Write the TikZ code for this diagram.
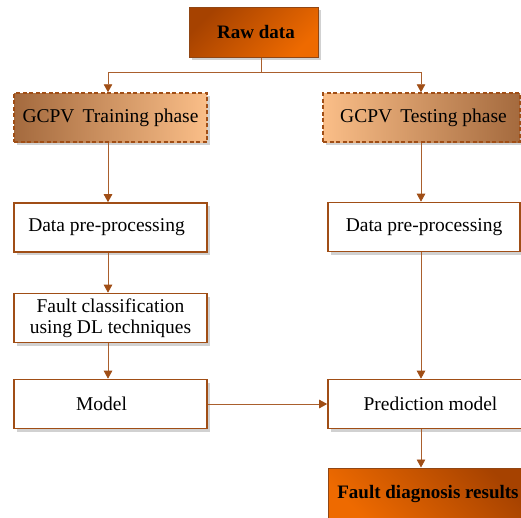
\documentclass[tikz,border=0pt]{standalone}
\usepackage{fontspec}
\setmainfont{Liberation Serif}
\usetikzlibrary{arrows.meta,shadows}
\definecolor{brd}{RGB}{160,78,22}
\definecolor{lnk}{RGB}{170,95,45}
\definecolor{dorange}{RGB}{166,66,0}
\definecolor{borange}{RGB}{238,106,0}
\definecolor{lpeach}{RGB}{250,190,136}
\definecolor{dpeach}{RGB}{164,106,62}
\tikzset{
  shad/.style={drop shadow={shadow xshift=2.5pt,shadow yshift=-3pt,fill=black!40,opacity=0.45}},
  wbox/.style={draw=brd,line width=1.6pt,fill=white,minimum width=193pt,minimum height=49pt,inner sep=0pt,align=center,shad},
  phasebox/.style={draw=brd,line width=1.5pt,dash pattern=on 4pt off 2.5pt,minimum width=193pt,minimum height=49pt,inner sep=0pt,shad},
  darkbox/.style={draw=brd!90!black,line width=1pt,inner sep=0pt,shad},
  arr/.style={draw=lnk,line width=0.9pt,-{Triangle[length=8pt,width=8.5pt,fill=brd,color=brd]}},
  lnkline/.style={draw=lnk,line width=0.9pt},
  txt/.style={font=\fontsize{19.5}{20.5}\selectfont},
  btxt/.style={font=\fontsize{19}{20}\selectfont\bfseries}
}
\begin{document}
\begin{tikzpicture}[x=1pt,y=-1pt]
\useasboundingbox (0,0) rectangle (521,517);
\clip (0,0) rectangle (521,517);
\coordinate (xl) at (108,0);
\coordinate (xr) at (421,0);
\coordinate (bus) at (261,72);
% top
\node[darkbox,top color=dorange,bottom color=borange,shading angle=45,minimum width=129pt,minimum height=50pt,btxt] (raw) at (253.5,32) {\hspace{5pt}Raw data};
\node[phasebox,left color=dpeach,right color=lpeach,txt] (train) at (110.5,117.5) {GCPV\, Training phase};
\node[phasebox,left color=lpeach,right color=dpeach,txt,minimum width=197pt] (test) at (421.5,117.5) {\hspace{4pt}GCPV\, Testing phase};
% left column
\node[wbox,txt] (dpl) at (110.5,227.5) {\raisebox{3pt}{Data pre-processing}\hspace{8pt}};
\node[wbox,txt] (fc) at (110.5,318) {\raisebox{2pt}{Fault classification}\\\raisebox{2pt}{using DL techniques}};
\node[wbox,txt] (model) at (110.5,404) {Model\hspace{18pt}};
% right column
\node[wbox,txt,minimum width=192pt] (dpr) at (424,227) {Data pre-processing};
\node[wbox,txt,minimum width=195pt] (pred) at (425.5,404) {\hspace{10pt}Prediction model};
\node[darkbox,top color=dorange,bottom color=borange,shading angle=-45,minimum width=200pt,minimum height=52pt,btxt] (fdr) at (428,494) {Fault diagnosis results};
% connectors
\draw[lnkline] (raw.south -| bus) -- (bus);
\draw[arr] (bus) -| (train.north -| xl);
\draw[arr] (bus) -| (test.north -| xr);
\draw[arr] (train.south -| xl) -- (dpl.north -| xl);
\draw[arr] (dpl.south -| xl) -- (fc.north -| xl);
\draw[arr] (fc.south -| xl) -- (model.north -| xl);
\draw[arr] (test.south -| xr) -- (dpr.north -| xr);
\draw[arr] (dpr.south -| xr) -- (pred.north -| xr);
\draw[arr] (model.east) -- (pred.west);
\draw[arr] (pred.south -| xr) -- (fdr.north -| xr);
\end{tikzpicture}
\end{document}
